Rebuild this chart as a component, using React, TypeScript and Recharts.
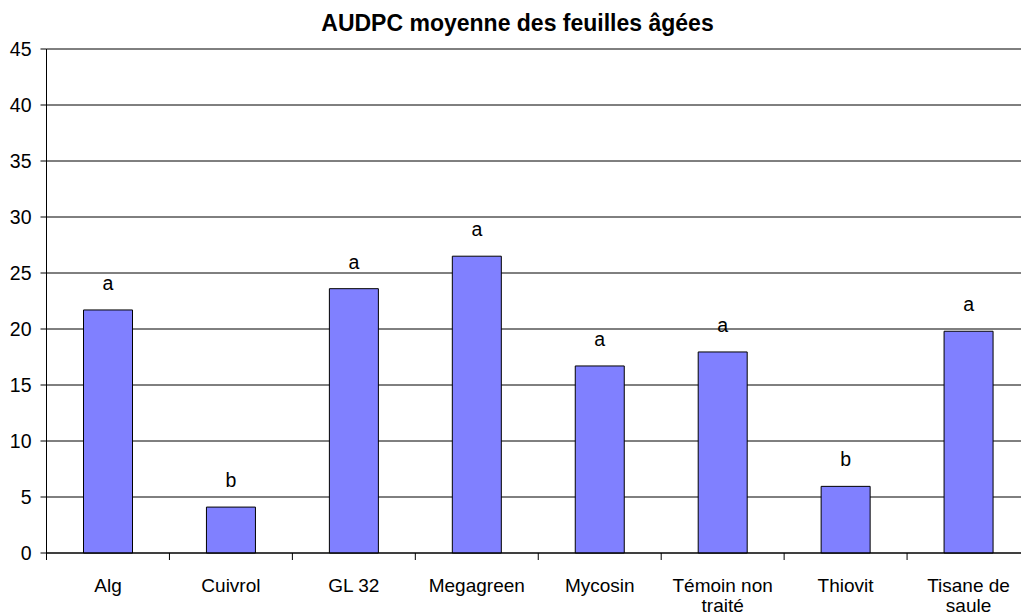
import React from 'react';
import { BarChart, Bar, XAxis, YAxis, CartesianGrid, LabelList, Text } from 'recharts';

const treatments = ['Alg', 'Cuivrol', 'GL 32', 'Megagreen', 'Mycosin', 'Témoin non traité', 'Thiovit', 'Tisane de saule'];
const audpc = [21.7, 4.1, 23.6, 26.5, 16.7, 17.95, 5.95, 19.8];
const groups = ['a', 'b', 'a', 'a', 'a', 'a', 'b', 'a'];
const yTicks = [0, 5, 10, 15, 20, 25, 30, 35, 40, 45];

const FONT = '"Liberation Sans", Arial, sans-serif';
const CHART_W = 1040;
const PLOT_LEFT = 46.5;
const PLOT_RIGHT_MARGIN = 10;
const BAND = (CHART_W - PLOT_LEFT - PLOT_RIGHT_MARGIN) / treatments.length;

const data = treatments.map((name, i) => ({ name, value: audpc[i], group: groups[i] }));

// labels centred in the band, tick marks on the band edges (Excel style)
const CategoryTick = (props: any) => {
  const { x, y, payload, index } = props;
  const left = x - BAND / 2;
  return (
    <g>
      <line x1={left} y1={y} x2={left} y2={y + 7} stroke="#000" />
      {index === treatments.length - 1 && (
        <line x1={left + BAND} y1={y} x2={left + BAND} y2={y + 7} stroke="#000" />
      )}
      <Text
        x={x}
        y={y + 25.5}
        width={108}
        textAnchor="middle"
        verticalAnchor="start"
        lineHeight={20}
        fontSize={19}
        fontFamily={FONT}
        style={{ fontSize: 19, fontFamily: FONT }}
        fill="#000"
      >
        {payload.value}
      </Text>
    </g>
  );
};

const GroupLabel = (props: any) => {
  const { x, y, width, value } = props;
  return (
    <text x={x + width / 2} y={y - 20} textAnchor="middle" fontSize={19.5} fontFamily={FONT} fill="#000">
      {value}
    </text>
  );
};

const App = () => {
  return (
    <div style={{ position: 'fixed', left: 0, top: 0, width: 1021, height: 616, overflow: 'hidden', background: '#fff' }}>
      <div
        style={{
          position: 'absolute',
          left: 0,
          top: 10,
          width: 1035,
          textAlign: 'center',
          fontFamily: FONT,
          fontWeight: 'bold',
          fontSize: 23,
          lineHeight: '26px',
        }}
      >
        AUDPC moyenne des feuilles âgées
      </div>
      <BarChart
        width={CHART_W}
        height={616}
        data={data}
        margin={{ top: 49, right: PLOT_RIGHT_MARGIN, bottom: 0, left: 0 }}
        barSize={49}
      >
        <CartesianGrid vertical={false} stroke="#000" strokeWidth={1} />
        <XAxis
          dataKey="name"
          interval={0}
          height={63}
          tickLine={false}
          tickSize={0}
          tickMargin={0}
          axisLine={{ stroke: '#000' }}
          tick={<CategoryTick />}
        />
        <YAxis
          width={PLOT_LEFT}
          domain={[0, 45]}
          ticks={yTicks}
          interval={0}
          tickSize={6}
          tickMargin={9}
          axisLine={{ stroke: '#000' }}
          tickLine={{ stroke: '#000' }}
          tick={{ fill: '#000', fontSize: 19.5, fontFamily: FONT }}
        />
        <Bar dataKey="value" fill="#8080FF" stroke="#000" strokeWidth={1} isAnimationActive={false}>
          <LabelList dataKey="group" content={<GroupLabel />} />
        </Bar>
      </BarChart>
    </div>
  );
};

export default App;
